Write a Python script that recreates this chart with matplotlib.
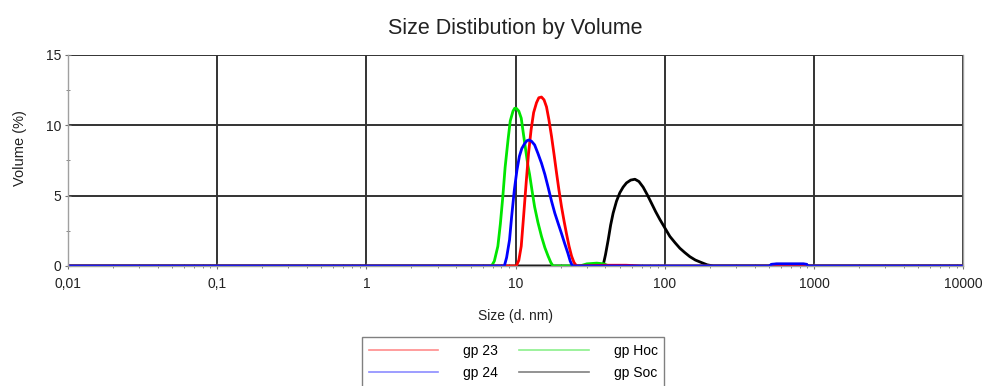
import numpy as np
import matplotlib
matplotlib.use('Agg')
import matplotlib.pyplot as plt
from matplotlib.lines import Line2D
from matplotlib.ticker import FixedLocator, LogLocator, NullFormatter

plt.rcParams['font.family'] = ['Liberation Sans', 'DejaVu Sans']

# size (d. nm) -> volume (%)
gp23_size = [0.01, 9.5, 10.1, 10.5, 10.9, 11.3, 11.8, 12.2, 12.7, 13.2, 13.8, 14.3, 14.9,
             15.5, 16.1, 16.7, 17.4, 18.1, 18.8, 19.5, 20.3, 21.1, 21.9, 22.8, 23.7,
             24.6, 25.6, 40, 55, 70, 10000]
gp23_vol = [0, 0, 0, 0.4, 1.4, 3.5, 6.1, 8.0, 9.7, 10.9, 11.6, 11.95, 12.0,
            11.8, 11.3, 10.4, 9.2, 7.9, 6.6, 5.4, 4.2, 3.2, 2.3, 1.4, 0.7,
            0.25, 0, 0.05, 0.05, 0, 0]

gp24_size = [0.01, 8.0, 8.4, 8.7, 9.1, 9.4, 9.8, 10.2, 10.6, 11.0, 11.5, 11.9, 12.3,
             12.8, 13.4, 14.1, 14.9, 15.7, 16.5, 17.4, 18.3, 19.3, 20.3, 21.3,
             22.4, 23.2, 24.0, 500, 520, 560, 850, 890, 910, 10000]
gp24_vol = [0, 0, 0, 0.6, 1.85, 3.5, 5.4, 6.8, 7.8, 8.35, 8.7, 8.9, 8.95,
            8.85, 8.6, 8.0, 7.3, 6.5, 5.6, 4.6, 3.75, 3.0, 2.3, 1.6,
            0.9, 0.35, 0, 0, 0.12, 0.15, 0.15, 0.12, 0, 0]

gphoc_size = [0.01, 6.5, 6.9, 7.2, 7.6, 7.9, 8.2, 8.5, 8.9, 9.2, 9.6, 9.85, 10.1, 10.5,
              10.9, 11.3, 11.8, 12.1, 12.4, 12.9, 13.4, 14.1, 14.9, 15.7, 16.5,
              17.2, 17.8, 27, 30, 35, 39, 42, 10000]
gphoc_vol = [0, 0, 0, 0.35, 1.4, 3.0, 4.9, 7.0, 9.0, 10.3, 11.0, 11.2, 11.2, 11.0,
             10.5, 9.3, 7.9, 7.1, 6.5, 5.3, 4.2, 3.1, 2.1, 1.3, 0.7,
             0.25, 0, 0, 0.15, 0.2, 0.15, 0, 0]

gpsoc_size = [0.01, 36, 38.5, 40, 41.7, 43.3, 45, 47.4, 49.9, 52.5, 55.3, 59, 63, 67,
              71.5, 76.3, 81.4, 86.8, 92.6, 100, 108, 117, 126, 136, 147, 160,
              176, 192, 211, 500, 520, 560, 850, 890, 910, 10000]
gpsoc_vol = [0, 0, 0, 0.8, 1.85, 2.9, 3.75, 4.6, 5.2, 5.6, 5.9, 6.1, 6.16, 6.0,
             5.6, 5.05, 4.45, 3.85, 3.3, 2.7, 2.1, 1.65, 1.26, 0.95, 0.66, 0.42,
             0.24, 0.08, 0, 0, 0.1, 0.12, 0.12, 0.1, 0, 0]

series = [
    ('gp 23', gp23_size, gp23_vol, '#ff0000', '#ff8c8c'),
    ('gp 24', gp24_size, gp24_vol, '#0000ff', '#8c8cff'),
    ('gp Hoc', gphoc_size, gphoc_vol, '#00e600', '#8cf08c'),
    ('gp Soc', gpsoc_size, gpsoc_vol, '#000000', '#808080'),
]
xticks = [0.01, 0.1, 1, 10, 100, 1000, 10000]
xticklabels = ['0,01', '0,1', '1', '10', '100', '1000', '10000']
yticks = [0, 5, 10, 15]

fig = plt.figure(figsize=(9.85, 3.86), dpi=100)
ax = fig.add_axes([0.069, 0.311, 0.909, 0.547])

# black drawn first so the coloured peaks sit on top, blue last for the far bump
for idx in [3, 2, 0, 1]:
    label, xs, ys, color, _ = series[idx]
    ax.plot(xs, ys, color=color, lw=2.0, solid_joinstyle='round')

ax.set_xscale('log')
ax.set_xlim(0.01, 10000)
ax.set_ylim(0, 15)
ax.xaxis.set_major_locator(FixedLocator(xticks))
ax.set_xticklabels(xticklabels)
ax.xaxis.set_minor_locator(LogLocator(base=10, subs=np.arange(2, 10)))
ax.xaxis.set_minor_formatter(NullFormatter())
ax.set_yticks(yticks)
ax.yaxis.set_minor_locator(FixedLocator([2.5, 7.5, 12.5]))

ax.grid(True, which='major', color='#333333', lw=1.4)
ax.set_axisbelow(True)
for s in ax.spines.values():
    s.set_color('#a0a0a0')
    s.set_linewidth(1.0)
ax.spines['top'].set_visible(False)
ax.tick_params(which='major', length=4, direction='inout', color='#707070',
               labelsize=10, labelcolor='#222222')
ax.tick_params(axis='x', which='major', pad=6)
ax.tick_params(axis='y', which='major', pad=3)
ax.tick_params(which='minor', length=3, direction='inout', color='#707070')

ax.set_title('Size Distibution by Volume', fontsize=15.5, color='#222222', pad=15)
ax.set_xlabel('Size (d. nm)', fontsize=10, color='#222222', labelpad=13)
ax.set_ylabel('Volume (%)', fontsize=10.5, color='#222222')
ax.yaxis.set_label_coords(-0.046, 0.56)

# legend box runs past the bottom edge in the original; blank third row does that
handles = [Line2D([], [], color=s[4], lw=1.2) for s in series]
blank = Line2D([], [], alpha=0)
leg_handles = [handles[0], handles[1], blank, handles[2], handles[3], blank]
leg_labels = ['gp 23', 'gp 24', ' ', 'gp Hoc', 'gp Soc', ' ']
fig.legend(leg_handles, leg_labels, ncol=2, loc='upper left',
           bbox_to_anchor=(362 / 985, 1 - 337 / 386), frameon=True, fancybox=False,
           edgecolor='#808080', fontsize=10, handlelength=5.0, handletextpad=1.8,
           columnspacing=1.5, labelspacing=0.6, borderaxespad=0, borderpad=0.5,
           framealpha=1)

fig.savefig('out.png', dpi=100)
